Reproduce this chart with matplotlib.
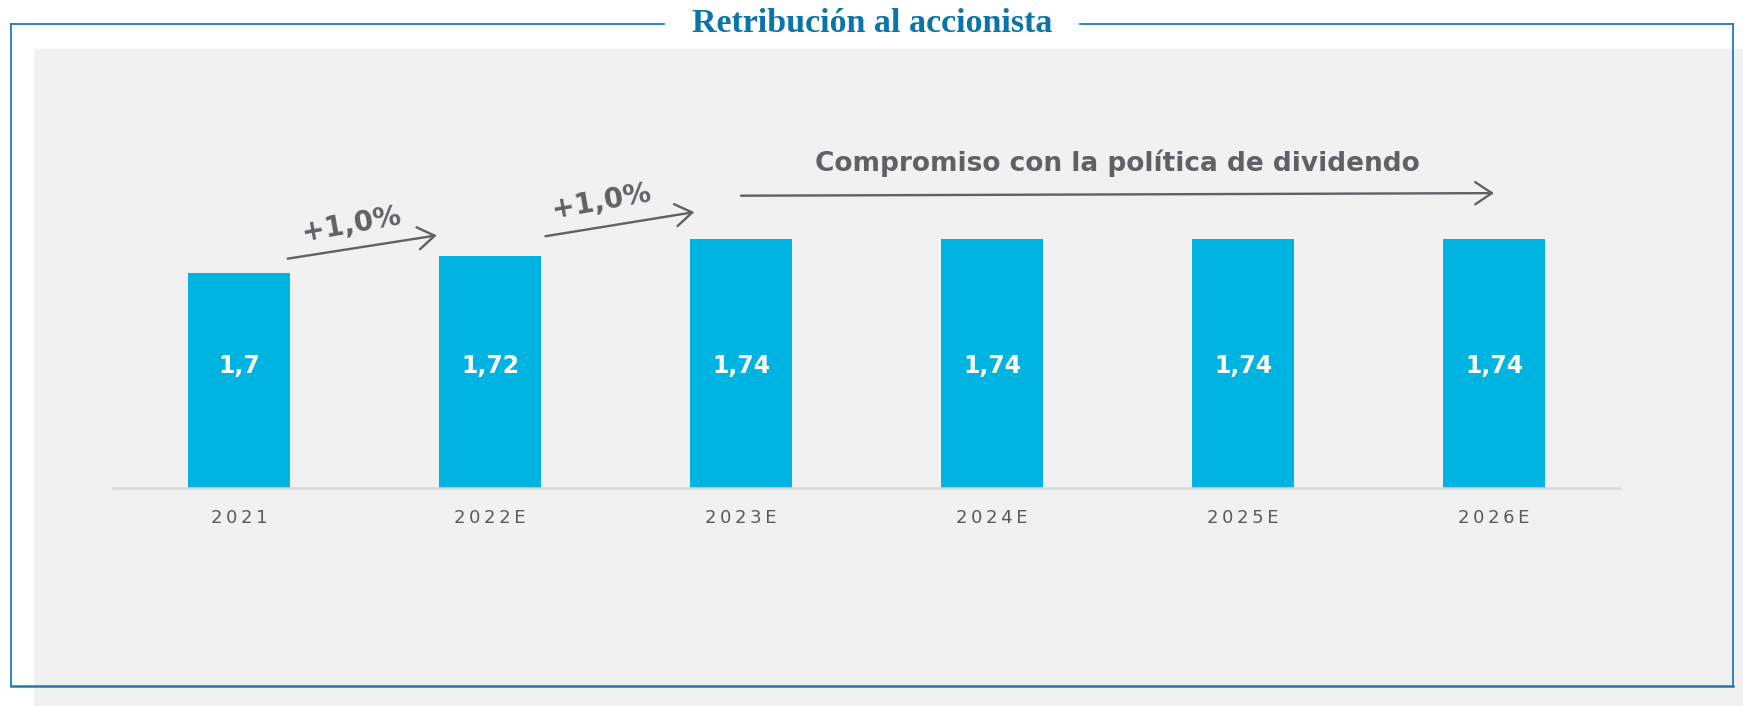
import matplotlib.pyplot as plt
from matplotlib.patches import Rectangle
from matplotlib.lines import Line2D

# datos
years = ['2021', '2022E', '2023E', '2024E', '2025E', '2026E']
dividend = [1.70, 1.72, 1.74, 1.74, 1.74, 1.74]
value_labels = ['1,7', '1,72', '1,74', '1,74', '1,74', '1,74']
growth_labels = ['+1,0%', '+1,0%']

title = 'Retribución al accionista'
commitment = 'Compromiso con la política de dividendo'

BAR = '#00b4e1'
GREY = '#606067'
BLUE = '#0b74a8'

W, H = 1743, 706
fig = plt.figure(figsize=(W / 100, H / 100), dpi=100)
fig.patch.set_facecolor('white')

# fondo y marco, en pixeles
bg = fig.add_axes([0, 0, 1, 1], zorder=0)
bg.set_xlim(0, W)
bg.set_ylim(H, 0)
bg.axis('off')
bg.add_patch(Rectangle((34, 49), W - 34, H - 49, facecolor='#f1f1f1', edgecolor='none'))
frame_kw = dict(color='#1b7db2', lw=1.3)
bg.add_line(Line2D([11, 664], [24, 24], **frame_kw))
bg.add_line(Line2D([1080, 1733], [24, 24], **frame_kw))
bg.add_line(Line2D([11, 11], [24, 686], **frame_kw))
bg.add_line(Line2D([1733, 1733], [24, 686], **frame_kw))
bg.add_line(Line2D([11, 1733], [686, 686], color='#1b7db2', lw=1.8))
bg.text(872, 23, title, ha='center', va='center', color=BLUE,
        fontsize=24.5, fontweight='bold', family='Liberation Serif')

# grafico principal
ax = fig.add_axes([113 / W, 218 / H, 1507 / W, 388 / H], zorder=1)
ax.patch.set_alpha(0)
x = list(range(len(years)))
ax.bar(x, dividend, width=0.41, color=BAR, zorder=2)
ax.set_xlim(-0.502, len(years) - 1 + 0.502)
ax.set_ylim(1.451, 1.901)

for s in ['top', 'left', 'right']:
    ax.spines[s].set_visible(False)
ax.spines['bottom'].set_color('#d9d9d9')
ax.spines['bottom'].set_linewidth(1.8)
ax.set_yticks([])
ax.set_xticks(x)
ax.set_xticklabels(['\u2009'.join(y) for y in years], fontsize=13, color='#595959')
ax.tick_params(axis='x', length=0, pad=15)

for xi, lab in zip(x, value_labels):
    ax.text(xi, 1.592, lab, ha='center', va='center', color='white',
            fontsize=17, fontweight='bold')

arrow = dict(arrowstyle='->,head_length=0.6,head_width=0.4', color=GREY,
             lw=1.7, mutation_scale=20, shrinkA=0, shrinkB=0)

# flechas de crecimiento
arrows = [((0.194, 1.717), (0.788, 1.744)), ((1.221, 1.743), (1.814, 1.771))]
text_pos = [(0.446, 1.757), (1.442, 1.783)]
for (start, end), (tx, ty), lab in zip(arrows, text_pos, growth_labels):
    ax.annotate('', xy=end, xytext=start, arrowprops=arrow)
    ax.text(tx, ty, lab, ha='center', va='center', rotation=10,
            rotation_mode='anchor', color=GREY, fontsize=20, fontweight='bold')

ax.annotate('', xy=(5.0, 1.793), xytext=(2.0, 1.790), arrowprops=arrow)
ax.text(3.5, 1.828, commitment, ha='center', va='center', color=GREY,
        fontsize=19, fontweight='bold')

fig.savefig('out.png', dpi=100)
